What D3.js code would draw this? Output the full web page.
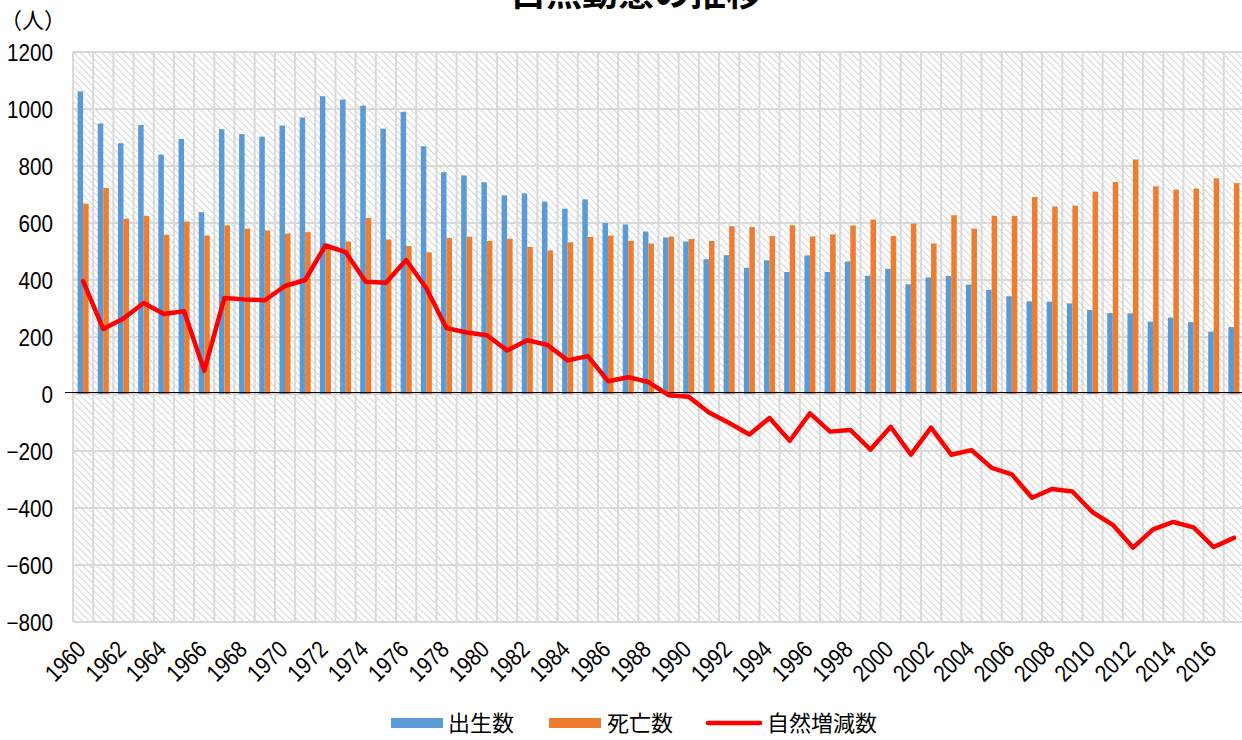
<!DOCTYPE html>
<html>
<head>
<meta charset="utf-8">
<script src="https://cdn.jsdelivr.net/npm/d3@7"></script>
<style>
    body { margin: 0; background: #fff; }
    text { font-family: "Noto Sans CJK JP", "Noto Sans", sans-serif; fill: #000; }
</style>
</head>
<body>
<div id="the_chart"></div>
<script>
// years on the x axis
var years = [1960, 1961, 1962, 1963, 1964, 1965, 1966, 1967, 1968, 1969,
             1970, 1971, 1972, 1973, 1974, 1975, 1976, 1977, 1978, 1979,
             1980, 1981, 1982, 1983, 1984, 1985, 1986, 1987, 1988, 1989,
             1990, 1991, 1992, 1993, 1994, 1995, 1996, 1997, 1998, 1999,
             2000, 2001, 2002, 2003, 2004, 2005, 2006, 2007, 2008, 2009,
             2010, 2011, 2012, 2013, 2014, 2015, 2016, 2017];

// 出生数
var births = [1062, 949, 880, 944, 840, 895, 638, 929, 912, 903,
              942, 970, 1045, 1033, 1012, 931, 990, 869, 778, 767,
              743, 697, 704, 675, 650, 683, 600, 595, 570, 549,
              535, 473, 487, 443, 469, 428, 486, 428, 465, 415,
              439, 385, 409, 414, 384, 365, 343, 325, 324, 318,
              295, 284, 283, 254, 268, 252, 219, 235];

// 死亡数
var deaths = [668, 723, 615, 625, 559, 605, 556, 592, 580, 574,
              563, 568, 524, 535, 618, 542, 519, 497, 547, 552,
              537, 545, 516, 504, 532, 551, 556, 537, 528, 552,
              544, 537, 589, 586, 554, 592, 553, 560, 591, 612,
              554, 598, 528, 627, 580, 625, 625, 691, 658, 661,
              710, 744, 823, 729, 717, 721, 757, 740];

// 自然増減数
var natural = [396, 228, 265, 319, 281, 290, 82, 337, 332, 329,
               379, 400, 521, 498, 394, 390, 470, 371, 231, 216,
               206, 153, 189, 172, 118, 133, 45, 59, 42, -4,
               -10, -65, -102, -142, -84, -164, -68, -132, -126, -195,
               -115, -213, -118, -213, -197, -259, -282, -364, -333, -342,
               -415, -459, -539, -475, -449, -468, -537, -505];

var yTicks = [-800, -600, -400, -200, 0, 200, 400, 600, 800, 1000, 1200];
var seriesNames = ["出生数", "死亡数", "自然増減数"];

var w = 1242;
var h = 740;
// note: "top" is taken by window.top, so plot edges get their own names
var plotLeft = 73, plotRight = 1244, plotTop = 52, plotBottom = 622;
var blue = "#5B9BD5", orange = "#ED7D31", red = "#FF0000", grid = "#D9D9D9";

var svg = d3.select("#the_chart")
    .append("svg")
    .attr("width", w)
    .attr("height", h);

// hatched background pattern
var pat = svg.append("defs").append("pattern")
    .attr("id", "hatch")
    .attr("patternUnits", "userSpaceOnUse")
    .attr("width", 7)
    .attr("height", 7);
pat.append("rect").attr("width", 7).attr("height", 7).attr("fill", "#fff");
pat.append("path")
    .attr("d", "M-1,-1 L8,8 M-1,6 L1,8 M6,-1 L8,1")
    .attr("stroke", "#dadada")
    .attr("stroke-width", 1.2);

var xscale = d3.scaleBand()
    .domain(years)
    .range([plotLeft, plotRight])
    .padding(0);

var step = xscale.bandwidth();
var xsub = d3.scaleBand()
    .domain(["b", "d"])
    .range([step * 0.227, step * 0.773]);

var yscale = d3.scaleLinear()
    .domain([-800, 1200])
    .range([plotBottom, plotTop]);

// plot area
svg.append("rect")
    .attr("x", plotLeft)
    .attr("y", plotTop)
    .attr("width", plotRight - plotLeft)
    .attr("height", plotBottom - plotTop)
    .attr("fill", "url(#hatch)");

// horizontal grid
svg.selectAll(".hgrid")
    .data(yTicks)
    .enter().append("line")
    .attr("x1", plotLeft)
    .attr("x2", plotRight)
    .attr("y1", function(d) { return yscale(d); })
    .attr("y2", function(d) { return yscale(d); })
    .attr("stroke", grid)
    .attr("stroke-width", 2);

// vertical grid on category edges
svg.selectAll(".vgrid")
    .data(years.concat(["end"]))
    .enter().append("line")
    .attr("x1", function(d, i) { return plotLeft + i * step; })
    .attr("x2", function(d, i) { return plotLeft + i * step; })
    .attr("y1", plotTop)
    .attr("y2", plotBottom)
    .attr("stroke", grid)
    .attr("stroke-width", 2);

// bars
function bars(values, key, color) {
    svg.append("g").selectAll("rect")
        .data(values)
        .enter().append("rect")
        .attr("x", function(d, i) { return xscale(years[i]) + xsub(key); })
        .attr("width", xsub.bandwidth())
        .attr("y", function(d) { return yscale(Math.max(d, 0)); })
        .attr("height", function(d) { return Math.abs(yscale(d) - yscale(0)); })
        .attr("fill", color);
}
bars(births, "b", blue);
bars(deaths, "d", orange);

// zero axis line
svg.append("line")
    .attr("x1", 65)
    .attr("x2", plotRight)
    .attr("y1", yscale(0) - 1.5)
    .attr("y2", yscale(0) - 1.5)
    .attr("stroke", "#000")
    .attr("stroke-width", 1.2);

// natural change line
var line = d3.line()
    .x(function(d, i) { return xscale(years[i]) + step / 2; })
    .y(function(d) { return yscale(d); });

svg.append("path")
    .datum(natural)
    .attr("d", line)
    .attr("fill", "none")
    .attr("stroke", red)
    .attr("stroke-width", 4.5)
    .attr("stroke-linejoin", "round")
    .attr("stroke-linecap", "round");

// y axis labels (a bit narrowed, like the original font)
var yaxis = d3.axisLeft(yscale)
    .tickValues(yTicks)
    .tickSize(0)
    .tickFormat(function(d) { return d < 0 ? "\u2212" + Math.abs(d) : d; });

var yg = svg.append("g")
    .attr("transform", "translate(" + plotLeft + ",0)")
    .call(yaxis);
yg.select(".domain").remove();
yg.selectAll("text")
    .style("font-size", "23px")
    .style("font-family", "'Liberation Sans', sans-serif")
    .attr("x", 0)
    .attr("dy", "0.35em")
    .attr("transform", "translate(-20,0) scale(0.9,1)");

// x axis labels, every second year
var xaxis = d3.axisBottom(xscale)
    .tickValues(years.filter(function(d, i) { return i % 2 == 0; }))
    .tickSize(0)
    .tickFormat(d3.format("d"));

var xg = svg.append("g")
    .attr("transform", "translate(0," + plotBottom + ")")
    .call(xaxis);
xg.select(".domain").remove();
xg.selectAll("text")
    .style("font-size", "24px")
    .style("font-family", "'Liberation Sans', sans-serif")
    .attr("text-anchor", "end")
    .attr("y", 0)
    .attr("dy", 0)
    .attr("transform", "translate(4,29) rotate(-45) scale(0.85,1)");

// unit and title
svg.append("text")
    .attr("x", 0)
    .attr("y", 28)
    .style("font-size", "22px")
    .text("（人）");

svg.append("text")
    .attr("x", 636)
    .attr("y", 6)
    .attr("text-anchor", "middle")
    .style("font-size", "36px")
    .style("font-weight", "bold")
    .text("自然動態の推移");

// legend
var legend = svg.append("g");
legend.append("rect").attr("x", 391).attr("y", 718).attr("width", 52).attr("height", 10).attr("fill", blue);
legend.append("text").attr("x", 448).attr("y", 731).style("font-size", "22px").text(seriesNames[0]);
legend.append("rect").attr("x", 549).attr("y", 718).attr("width", 52).attr("height", 10).attr("fill", orange);
legend.append("text").attr("x", 607).attr("y", 731).style("font-size", "22px").text(seriesNames[1]);
legend.append("line").attr("x1", 708).attr("x2", 760).attr("y1", 723).attr("y2", 723)
    .attr("stroke", red).attr("stroke-width", 4.5).attr("stroke-linecap", "round");
legend.append("text").attr("x", 767).attr("y", 731).style("font-size", "22px").text(seriesNames[2]);
</script>
</body>
</html>
